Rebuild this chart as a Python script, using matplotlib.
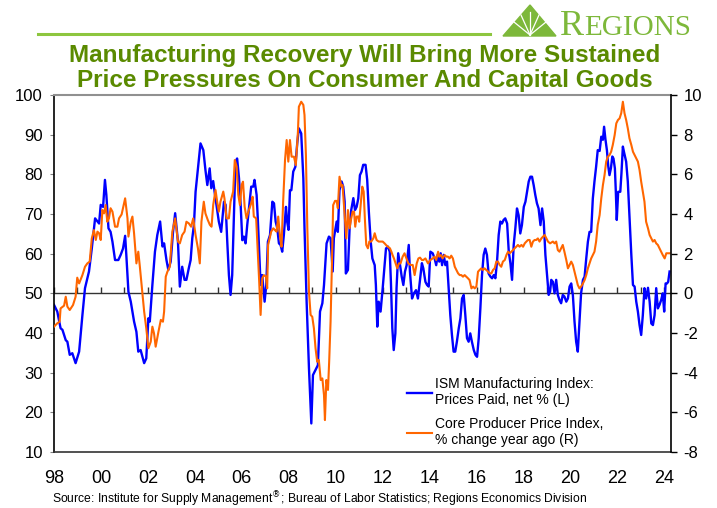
import matplotlib
matplotlib.use('Agg')
import matplotlib.pyplot as plt
from matplotlib.lines import Line2D
from matplotlib.patches import Polygon

plt.rcParams['font.family'] = ['Liberation Sans', 'DejaVu Sans']
plt.rcParams['axes.unicode_minus'] = False

# ISM prices paid, net % (left axis) -- decimal years
ism_t = [1998.00, 1998.14, 1998.28, 1998.36, 1998.50, 1998.57, 1998.67, 1998.78, 1998.92, 1999.07,
         1999.21, 1999.32, 1999.49, 1999.61, 1999.75, 1999.92, 1999.99, 2000.09, 2000.17, 2000.23,
         2000.32, 2000.41, 2000.49, 2000.60, 2000.74, 2000.84, 2000.94, 2001.03, 2001.08, 2001.17,
         2001.27, 2001.41, 2001.51, 2001.59, 2001.69, 2001.84, 2001.93, 2002.02, 2002.08, 2002.19,
         2002.30, 2002.40, 2002.52, 2002.62, 2002.69, 2002.79, 2002.87, 2002.97, 2003.07, 2003.16,
         2003.28, 2003.36, 2003.46, 2003.56, 2003.64, 2003.74, 2003.82, 2003.89, 2003.96, 2004.03,
         2004.13, 2004.24, 2004.36, 2004.45, 2004.53, 2004.63, 2004.70, 2004.78, 2004.84, 2004.92,
         2005.02, 2005.12, 2005.24, 2005.31, 2005.38, 2005.45, 2005.52, 2005.59, 2005.66, 2005.73,
         2005.80, 2005.88, 2005.95, 2006.02, 2006.09, 2006.16, 2006.23, 2006.32, 2006.40, 2006.49,
         2006.54, 2006.63, 2006.68, 2006.74, 2006.80, 2006.87, 2006.91, 2006.97, 2007.04, 2007.11,
         2007.20, 2007.30, 2007.37, 2007.44, 2007.51, 2007.58, 2007.65, 2007.72, 2007.79, 2007.88,
         2007.93, 2007.99, 2008.05, 2008.11, 2008.19, 2008.28, 2008.36,
         2008.43, 2008.53, 2008.62, 2008.67, 2008.76, 2008.86, 2008.96, 2009.03, 2009.14, 2009.24,
         2009.33, 2009.43, 2009.50, 2009.61, 2009.71, 2009.78, 2009.87, 2009.92, 2010.04, 2010.09,
         2010.16, 2010.25, 2010.32, 2010.38, 2010.43, 2010.52, 2010.59, 2010.66, 2010.75, 2010.82,
         2010.89, 2010.96, 2011.03, 2011.10, 2011.17, 2011.27, 2011.34, 2011.41, 2011.49, 2011.56,
         2011.66, 2011.71, 2011.77, 2011.83, 2011.91, 2012.00, 2012.08, 2012.14, 2012.22, 2012.30,
         2012.35, 2012.41, 2012.47, 2012.54, 2012.59, 2012.66, 2012.74, 2012.81, 2012.88, 2012.95,
         2013.02, 2013.11, 2013.16, 2013.25, 2013.33, 2013.42, 2013.50, 2013.59, 2013.67, 2013.73,
         2013.82,
         2013.89, 2013.96, 2014.03, 2014.13, 2014.21, 2014.28, 2014.34, 2014.41, 2014.47, 2014.53,
         2014.60, 2014.67, 2014.74, 2014.81, 2014.88, 2014.95, 2015.02, 2015.09, 2015.16, 2015.24,
         2015.31, 2015.38, 2015.45, 2015.52, 2015.59, 2015.66, 2015.73, 2015.80, 2015.88, 2015.95,
         2016.02, 2016.09, 2016.16, 2016.23, 2016.30, 2016.37, 2016.44, 2016.51, 2016.59, 2016.66,
         2016.73, 2016.80, 2016.87, 2016.94, 2017.01, 2017.08, 2017.15, 2017.22, 2017.30, 2017.37,
         2017.44, 2017.51, 2017.58, 2017.65, 2017.72, 2017.79, 2017.86, 2017.93, 2018.01, 2018.08,
         2018.15, 2018.22, 2018.29, 2018.36, 2018.43, 2018.50, 2018.57, 2018.64, 2018.72, 2018.79,
         2018.86, 2018.93, 2019.00, 2019.07, 2019.13,
         2019.18, 2019.25, 2019.32, 2019.39, 2019.46, 2019.53, 2019.60, 2019.67, 2019.74, 2019.82,
         2019.89, 2019.96, 2020.03, 2020.10, 2020.17, 2020.24, 2020.31, 2020.38, 2020.45, 2020.53,
         2020.60, 2020.67, 2020.74, 2020.81, 2020.88, 2020.95, 2021.02, 2021.09, 2021.16, 2021.24,
         2021.31, 2021.38, 2021.43, 2021.49, 2021.55, 2021.61, 2021.66, 2021.72, 2021.78, 2021.83,
         2021.89, 2021.93, 2021.97, 2022.03, 2022.12, 2022.17, 2022.23, 2022.29, 2022.37, 2022.44,
         2022.51, 2022.59, 2022.66, 2022.73, 2022.80, 2022.87, 2022.94, 2023.01, 2023.08, 2023.15,
         2023.22, 2023.30, 2023.37, 2023.44, 2023.51, 2023.58, 2023.65, 2023.72, 2023.79, 2023.86,
         2023.93, 2023.99, 2024.05, 2024.11, 2024.16, 2024.22]
ism_v = [47.1, 45.4, 41.2, 40.8, 38.2, 37.8, 34.5, 34.9, 32.4, 35.3,
         44.5, 51.3, 55.5, 61.3, 68.9, 67.6, 72.3, 71.8, 78.6, 74.8,
         66.4, 65.5, 63.0, 58.4, 58.4, 59.7, 61.3, 64.5, 59.7, 50.4,
         47.9, 42.9, 40.3, 35.3, 35.7, 32.4, 33.6, 43.7, 42.9, 52.1,
         60.5, 64.7, 68.1, 61.8, 62.6, 58.4, 55.9, 58.0, 65.5, 70.2,
         63.0, 51.7, 56.7, 53.4, 53.4, 56.3, 58.4, 63.9, 67.2, 75.6,
         81.5, 87.8, 86.1, 81.1, 77.3, 81.5, 76.5, 78.3, 75.6, 72.3,
         68.1, 65.5, 73.1, 72.3, 63.0, 54.6, 49.6, 54.6, 68.9, 83.2,
         84.0, 79.0, 72.3, 63.4, 64.3, 62.6, 67.2, 72.3, 76.9, 76.9,
         78.6, 74.8, 68.9, 60.5, 52.1, 54.6, 51.7, 47.9, 52.1, 63.0,
         64.7, 73.1, 72.7, 68.1, 66.4, 62.6, 62.2, 60.5, 64.7, 71.8,
         68.1, 66.0, 76.0, 76.0, 80.7, 81.9, 87.8,
         91.6, 90.3, 79.0, 66.4, 47.9, 31.1, 17.2, 29.4, 30.7, 31.9,
         45.4, 47.5, 52.1, 62.6, 64.3, 63.9, 55.5, 63.9, 68.1, 65.5,
         76.0, 78.2, 76.9, 73.1, 55.0, 55.9, 66.4, 71.0, 74.0, 71.0,
         71.8, 73.9, 79.8, 80.7, 82.4, 82.4, 78.6, 70.6, 63.0, 58.8,
         57.1, 52.1, 41.6, 47.9, 45.4, 51.3, 57.1, 61.3, 61.8, 60.5,
         52.9, 41.2, 35.7, 39.9, 51.3, 60.1, 57.1, 54.2, 52.1, 55.5,
         57.1, 62.2, 55.5, 48.7, 50.0, 50.8, 48.7, 53.4, 57.6, 56.3,
         52.9,
         52.1, 51.7, 60.5, 60.1, 58.8, 57.1, 59.7, 58.0, 60.1, 57.1,
         59.7, 57.1, 58.0, 51.3, 44.5, 39.5, 35.3, 35.3, 37.8, 41.2,
         43.7, 48.7, 49.6, 44.5, 38.7, 37.8, 39.9, 37.8, 35.7, 34.5,
         34.0, 38.7, 46.2, 54.6, 59.7, 61.3, 59.7, 55.0, 54.2, 53.8,
         54.6, 53.8, 58.0, 64.7, 68.1, 67.6, 68.5, 68.9, 67.6, 60.5,
         57.6, 53.4, 62.2, 66.4, 71.4, 69.7, 65.1, 67.2, 71.8, 73.1,
         75.6, 78.2, 79.4, 79.4, 77.3, 74.8, 72.7, 71.4, 67.2, 71.4,
         68.1, 59.7, 54.6, 49.6, 50.4,
         53.4, 52.9, 50.0, 53.4, 49.6, 48.3, 47.5, 49.6, 49.2, 47.9,
         48.7, 51.7, 52.5, 49.6, 42.9, 37.8, 35.3, 42.9, 50.0, 53.4,
         54.2, 58.8, 63.0, 65.5, 65.5, 73.9, 78.2, 81.9, 86.1, 85.9,
         89.5, 88.7, 92.0, 88.7, 86.1, 81.9, 79.8, 81.5, 84.5, 84.0,
         81.5, 75.6, 68.5, 75.6, 75.6, 80.3, 87.0, 85.3, 83.2, 78.2,
         69.7, 59.7, 52.1, 51.7, 47.9, 45.4, 42.0, 39.5, 44.5, 51.3,
         48.7, 51.4, 47.9, 42.4, 42.0, 44.5, 51.3, 46.2, 47.1, 48.3,
         50.0, 45.4, 52.5, 52.5, 52.9, 55.5]

# core PPI, % change year ago (right axis)
ppi_t = [1998.00, 1998.14, 1998.24, 1998.28, 1998.43, 1998.50, 1998.57, 1998.67, 1998.81, 1998.92,
         1998.99, 1999.07, 1999.21, 1999.32, 1999.42, 1999.52, 1999.61, 1999.70, 1999.78, 1999.85,
         1999.92, 1999.99, 2000.06, 2000.13, 2000.20, 2000.27, 2000.34, 2000.41, 2000.49, 2000.60,
         2000.70, 2000.77, 2000.88, 2001.03, 2001.13, 2001.17, 2001.27, 2001.34, 2001.41, 2001.51,
         2001.59, 2001.65, 2001.76, 2001.84, 2001.93, 2002.02, 2002.12, 2002.19, 2002.26, 2002.33,
         2002.45, 2002.55, 2002.64, 2002.69, 2002.76, 2002.83, 2002.93, 2003.04, 2003.16,
         2003.28, 2003.36, 2003.46, 2003.56, 2003.64, 2003.74, 2003.84, 2003.93, 2004.03, 2004.13,
         2004.21, 2004.28, 2004.38, 2004.45, 2004.55, 2004.64, 2004.71, 2004.78, 2004.88, 2004.95,
         2005.02, 2005.09, 2005.21, 2005.26, 2005.35, 2005.45, 2005.52, 2005.63, 2005.70, 2005.78,
         2005.85, 2005.92, 2005.99, 2006.05, 2006.12, 2006.20, 2006.30, 2006.40, 2006.46, 2006.51,
         2006.61, 2006.68, 2006.74, 2006.80, 2006.87, 2006.94, 2007.03, 2007.08, 2007.12, 2007.20,
         2007.25, 2007.34, 2007.41, 2007.48, 2007.55, 2007.62, 2007.69, 2007.76, 2007.84, 2007.91,
         2007.98, 2008.05, 2008.12, 2008.22, 2008.30, 2008.39,
         2008.43, 2008.53, 2008.62, 2008.67, 2008.73, 2008.79, 2008.86, 2008.93, 2009.00, 2009.07,
         2009.14, 2009.21, 2009.28, 2009.36, 2009.43, 2009.50, 2009.54, 2009.60, 2009.67, 2009.72,
         2009.78, 2009.84, 2009.89, 2009.97, 2010.04, 2010.09, 2010.16, 2010.24, 2010.29, 2010.35,
         2010.41, 2010.45, 2010.52, 2010.59, 2010.66, 2010.72, 2010.78, 2010.83, 2010.89, 2010.96,
         2011.00, 2011.06, 2011.13, 2011.19, 2011.24, 2011.30, 2011.37, 2011.43, 2011.51, 2011.60,
         2011.66, 2011.74, 2011.83, 2011.91, 2012.00, 2012.08, 2012.14, 2012.22, 2012.31, 2012.37,
         2012.42, 2012.48, 2012.55, 2012.62, 2012.69, 2012.76, 2012.85, 2012.93, 2013.01, 2013.09,
         2013.19, 2013.28, 2013.36, 2013.45, 2013.52, 2013.59, 2013.67, 2013.73, 2013.82,
         2013.93, 2014.03, 2014.13, 2014.21, 2014.28, 2014.36, 2014.41, 2014.48, 2014.55, 2014.64,
         2014.71, 2014.78, 2014.85, 2014.92, 2014.99, 2015.07, 2015.14, 2015.21, 2015.28, 2015.35,
         2015.42, 2015.49, 2015.56, 2015.63, 2015.70, 2015.78, 2015.85, 2015.92, 2015.99, 2016.06,
         2016.13, 2016.20, 2016.27, 2016.34, 2016.41, 2016.49, 2016.56, 2016.63, 2016.70, 2016.77,
         2016.84, 2016.91, 2016.98, 2017.05, 2017.12, 2017.20, 2017.27, 2017.34, 2017.41, 2017.48,
         2017.55, 2017.62, 2017.69, 2017.76, 2017.83, 2017.91, 2017.98, 2018.05, 2018.12, 2018.19,
         2018.26, 2018.33, 2018.40, 2018.47, 2018.54, 2018.61, 2018.68, 2018.76, 2018.83, 2018.90,
         2018.97, 2019.04, 2019.13,
         2019.25, 2019.32, 2019.39, 2019.46, 2019.53, 2019.60, 2019.67, 2019.74, 2019.82, 2019.89,
         2019.96, 2020.03, 2020.10, 2020.17, 2020.24, 2020.31, 2020.38, 2020.45, 2020.53, 2020.60,
         2020.67, 2020.74, 2020.81, 2020.88, 2020.95, 2021.02, 2021.09, 2021.16, 2021.24, 2021.31,
         2021.38, 2021.45, 2021.52, 2021.59, 2021.66, 2021.73, 2021.80, 2021.88, 2021.95, 2022.02,
         2022.09, 2022.16, 2022.23, 2022.30, 2022.37, 2022.44, 2022.51, 2022.59, 2022.66, 2022.73,
         2022.80, 2022.87, 2022.94, 2023.01, 2023.08, 2023.15, 2023.22, 2023.30, 2023.37, 2023.44,
         2023.51, 2023.58, 2023.65, 2023.72, 2023.79, 2023.86, 2023.93, 2024.01, 2024.08, 2024.15,
         2024.22]
ppi_v = [-1.68, -1.51, -1.43, -0.76, -0.62, -0.17, -0.67, -0.84, -0.59, -0.17,
         0.79, 0.50, 0.92, 1.34, 1.51, 1.60, 2.77, 3.19, 2.69, 3.11,
         3.03, 2.69, 4.20, 4.03, 4.45, 3.61, 3.78, 4.29, 4.12, 3.36,
         3.36, 3.78, 3.98, 4.79, 3.78, 2.86, 3.61, 3.87, 3.03, 1.51,
         2.10, 1.43, 0.08, -0.92, -1.76, -2.77, -2.44, -1.68, -2.02, -2.69,
         -1.93, -1.34, -1.43, -0.92, 0.84, 1.09, 1.34, 3.11, 3.78,
         2.61, 2.52, 2.94, 3.11, 3.61, 3.53, 3.36, 3.78, 2.94, 2.27,
         1.51, 3.61, 4.62, 4.03, 3.70, 3.45, 3.36, 4.45, 5.21, 4.62,
         4.12, 4.62, 5.13, 4.79, 3.78, 3.78, 4.62, 5.13, 6.72, 6.39,
         4.96, 4.45, 5.46, 5.63, 4.37, 3.78, 4.20, 4.54, 4.87, 3.87,
         3.78, 2.10, 0.59, -1.09, 0.76, 0.92, 0.84, 0.25, 2.44, 2.86,
         3.11, 3.28, 3.19, 3.11, 3.87, 2.94, 2.35, 4.62, 6.72, 7.73,
         6.64, 7.73, 6.89, 6.89, 6.47, 8.15,
         9.41, 9.66, 9.50, 8.99, 6.97, 3.28, 0.08, -1.09, -1.18, -1.76,
         -2.77, -3.45, -3.36, -4.37, -4.29, -5.13, -6.39, -4.37, -4.87, -3.45,
         -1.43, 1.60, 4.45, 4.66, 4.66, 4.29, 5.88, 5.38, 5.46, 4.45,
         3.45, 2.77, 4.20, 3.28, 3.78, 4.12, 4.12, 3.36, 3.87, 3.87,
         3.61, 4.45, 5.38, 5.13, 3.78, 2.44, 2.27, 2.61, 2.61, 2.77,
         3.03, 2.69, 2.61, 2.61, 2.61, 2.52, 2.44, 2.35, 2.27, 2.10,
         1.93, 1.76, 1.51, 1.26, 1.51, 1.51, 1.85, 2.02, 1.76, 1.51,
         1.43, 1.43, 0.92, 1.51, 1.76, 1.80, 1.68, 1.68, 1.76,
         1.51, 1.68, 1.76, 1.85, 1.68, 2.10, 1.85, 1.93, 1.76, 1.93,
         1.85, 1.85, 1.76, 1.90, 1.76, 1.34, 1.18, 1.01, 0.92, 0.92,
         0.84, 0.92, 0.84, 0.76, 0.67, 0.25, 0.34, 0.25, 0.34, 1.09,
         1.18, 1.26, 1.18, 1.26, 1.18, 1.09, 1.01, 1.01, 1.18, 1.26,
         1.60, 1.60, 1.43, 1.34, 1.60, 1.68, 1.93, 2.10, 2.02, 2.10,
         2.18, 2.27, 2.35, 2.44, 2.35, 2.44, 2.35, 2.52, 2.61, 2.69,
         2.69, 2.35, 2.61, 2.69, 2.69, 2.77, 2.61, 2.77, 2.86, 2.94,
         2.77, 2.61, 2.52,
         2.61, 2.52, 2.61, 2.18, 2.10, 2.27, 2.44, 2.10, 1.68, 1.26,
         1.43, 1.60, 1.43, 1.09, 0.76, 0.42, 0.25, 0.34, 0.50, 0.67,
         0.92, 1.26, 1.51, 1.76, 1.93, 2.10, 2.61, 3.45, 3.95, 4.79,
         5.46, 5.97, 6.64, 6.89, 6.97, 7.14, 7.48, 7.98, 8.57, 8.74,
         8.82, 9.08, 9.66, 9.08, 8.74, 8.32, 7.82, 7.48, 7.14, 6.97,
         6.81, 6.64, 6.22, 5.63, 5.13, 4.62, 3.61, 3.28, 2.94, 2.77,
         2.61, 2.69, 2.52, 2.44, 2.27, 2.10, 1.93, 1.76, 2.02, 2.02,
         2.02]

year_ticks = list(range(1998, 2025, 2))
year_labels = ['98', '00', '02', '04', '06', '08', '10', '12', '14', '16', '18', '20', '22', '24']
left_ticks = list(range(10, 101, 10))
right_ticks = list(range(-8, 11, 2))

ism_label = 'ISM Manufacturing Index:\nPrices Paid, net % (L)'
ppi_label = 'Core Producer Price Index,\n% change year ago (R)'
title = 'Manufacturing Recovery Will Bring More Sustained\nPrice Pressures On Consumer And Capital Goods'
source = ('Source: Institute for Supply Management$^{\u00ae}$; Bureau of Labor Statistics; '
          'Regions Economics Division')

title_green = '#5A8A00'
logo_green = '#7DB83A'

W, H = 717, 508
fig = plt.figure(figsize=(W / 100, H / 100), dpi=100)
ax = fig.add_axes([54 / W, 1 - 452 / H, 617 / W, 357 / H])
ax2 = ax.twinx()

ax.plot(ism_t, ism_v, color='#0000FF', lw=1.7, label=ism_label)
ax2.plot(ppi_t, ppi_v, color='#FF6600', lw=1.5, label=ppi_label)

ax.set_xlim(1998, 2024.28)
ax.set_ylim(10, 100)
ax2.set_ylim(-8, 10)

ax.set_xticks(year_ticks, year_labels)
ax.tick_params(axis='x', length=0, pad=13, labelsize=13)
ax.set_yticks(left_ticks)
ax.tick_params(axis='y', length=3, width=0.8, color='#808080', pad=5, labelsize=12)
ax2.set_yticks(right_ticks)
ax2.tick_params(axis='y', length=4, width=1, color='black', pad=5, labelsize=12)

for s in ['top', 'bottom', 'left']:
    ax2.spines[s].set_visible(False)
ax.spines['right'].set_visible(False)
ax.spines['top'].set_color('#909090')
ax.spines['top'].set_linewidth(1.5)
ax.spines['left'].set_linewidth(1.2)
ax.spines['bottom'].set_color('#333333')
ax.spines['bottom'].set_linewidth(1.2)
ax2.spines['right'].set_linewidth(1.2)

# zero line with yearly ticks
zl = ax.secondary_xaxis(50, transform=ax.transData)
zl.set_xticks(list(range(1998, 2025)))
zl.tick_params(axis='x', direction='out', length=4, width=1, color='#333333',
               labelbottom=False, labeltop=False)
for s in zl.spines.values():
    s.set_color('#333333')
    s.set_linewidth(1.0)

h1, l1 = ax.get_legend_handles_labels()
h2, l2 = ax2.get_legend_handles_labels()
ax2.legend(h1 + h2, l1 + l2, loc='upper left', bbox_to_anchor=(0.572, 0.21),
           frameon=False, fontsize=10, handlelength=1.8, handletextpad=0.2,
           borderpad=0, borderaxespad=0, labelspacing=0.7)

fig.text(0.509, 1 - 68 / H, title, ha='center', va='center', fontsize=17.5,
         fontweight='bold', color=title_green, linespacing=1.1)

# header rule and logo
fig.add_artist(Line2D([38 / W, 490 / W], [1 - 34 / H, 1 - 34 / H], color='#8DC63F', lw=2.2))
fig.add_artist(Polygon([(503 / W, 1 - 36 / H), (556 / W, 1 - 36 / H), (530 / W, 1 - 5 / H)],
                       closed=True, transform=fig.transFigure, color=logo_green))
for ex, ey in [(514, 22), (521, 15), (530, 12), (539, 15), (546, 22)]:
    fig.add_artist(Line2D([530 / W, ex / W], [1 - 35 / H, 1 - ey / H], color='white', lw=0.9))
fig.text(560 / W, 1 - 35 / H, 'R', fontsize=26, family='Liberation Serif', color=logo_green,
         va='baseline', ha='left')
fig.text(584 / W, 1 - 35 / H, 'EGIONS', fontsize=21, family='Liberation Serif', color=logo_green,
         va='baseline', ha='left')

fig.text(52 / W, 1 - 499 / H, source, fontsize=8.7, va='center', ha='left')

fig.savefig('out.png', dpi=100)
